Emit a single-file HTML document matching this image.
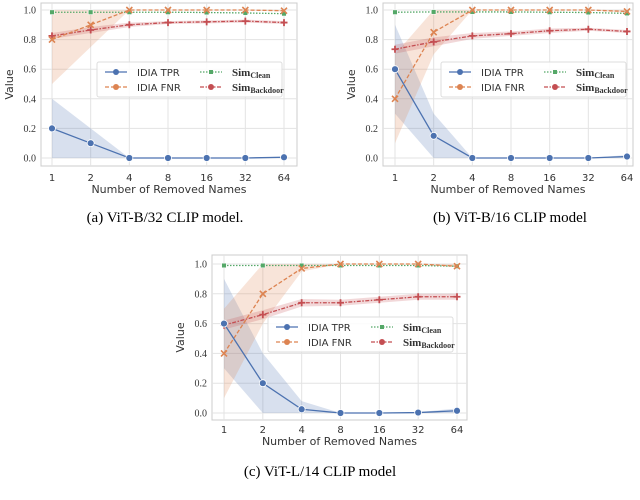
<!DOCTYPE html>
<html><head><meta charset="utf-8">
<style>
body{margin:0;background:#fff;width:640px;height:495px;overflow:hidden}
svg text{font-family:"DejaVu Sans","Liberation Sans",sans-serif;fill:#333}
.cap{font-family:"Liberation Serif",serif;font-size:15px;fill:#000}
.ytl{font-family:"Liberation Serif",serif;font-size:10px}
</style></head><body>
<svg id="fig" width="640" height="495"></svg>
<script>
const categories = ["1","2","4","8","16","32","64"];
const yTicks = [0.0,0.2,0.4,0.6,0.8,1.0];
// Panel a
const aTPR=[0.2,0.1,0,0,0,0,0.005], aTPRlo=[0,0,0,0,0,0,0], aTPRhi=[0.4,0.2,0,0,0,0,0.01];
const aFNR=[0.8,0.9,1,1,1,1,0.995], aFNRlo=[0.5,0.75,1,1,1,1,0.99], aFNRhi=[1,1,1,1,1,1,1];
const aClean=[0.985,0.985,0.985,0.985,0.983,0.98,0.975];
const aBack=[0.825,0.865,0.9,0.915,0.92,0.925,0.915];
const aBackErr=[0.02,0.02,0.015,0.01,0.01,0.01,0.01];
// Panel b
const bTPR=[0.6,0.15,0,0,0,0,0.01], bTPRlo=[0.3,0,0,0,0,0,0], bTPRhi=[0.9,0.3,0,0,0,0,0.02];
const bFNR=[0.4,0.85,1,1,1,1,0.99], bFNRlo=[0.1,0.7,1,1,1,1,0.98], bFNRhi=[0.7,1,1,1,1,1,1];
const bClean=[0.985,0.987,0.987,0.987,0.985,0.983,0.977];
const bBack=[0.735,0.785,0.825,0.84,0.86,0.87,0.855];
const bBackErr=[0.03,0.03,0.02,0.015,0.015,0.01,0.01];
// Panel c
const cTPR=[0.6,0.2,0.025,0,0,0.003,0.015], cTPRlo=[0.3,0,0,0,0,0,0], cTPRhi=[0.9,0.4,0.08,0,0,0.006,0.03];
const cFNR=[0.4,0.8,0.97,1,1,1,0.985], cFNRlo=[0.1,0.6,0.95,1,1,1,0.98], cFNRhi=[0.7,1,1,1,1,1,1];
const cClean=[0.99,0.99,0.99,0.99,0.99,0.99,0.985];
const cBack=[0.59,0.66,0.74,0.74,0.76,0.78,0.78];
const cBackErr=[0.03,0.03,0.025,0.02,0.02,0.02,0.02];

const NS="http://www.w3.org/2000/svg";
const fig=document.getElementById('fig');
function mk(tag,attrs,parent){const e=document.createElementNS(NS,tag);for(const k in attrs)e.setAttribute(k,attrs[k]);(parent||fig).appendChild(e);return e;}
const C={tpr:"#4c72b0",fnr:"#dd8452",clean:"#55a868",back:"#c44e52"};

function panel(id,box,x1,x64,y0,y1,d,leg,cap){
  const g=mk('g',{});
  
  
  const xs=i=>x1+(x64-x1)*i/(categories.length-1);
  const ys=v=>y0+(y1-y0)*v;
  const bg=mk('rect',{x:box[0],y:box[1],width:box[2]-box[0],height:box[3]-box[1],fill:"#fff",stroke:"#ccc","stroke-width":1},g);
  
  
  categories.forEach((c,i)=>{
    mk('line',{x1:xs(i),x2:xs(i),y1:box[1],y2:box[3],stroke:"#e3e3e3","stroke-width":1},g);
    const t=mk('text',{x:xs(i),y:181,"font-size":10,"text-anchor":"middle"},g);t.textContent=c;
    
    
  });
  yTicks.forEach(v=>{
    mk('line',{x1:box[0],x2:box[2],y1:ys(v),y2:ys(v),stroke:"#e3e3e3","stroke-width":1},g);
    const t=mk('text',{x:box[0]-5,y:ys(v)+3.5,"text-anchor":"end",class:"ytl"},g);t.textContent=v.toFixed(1);
    
    
  });
  const band=(lo,hi,col,name)=>{
    let p=lo.map((v,i)=>xs(i)+","+ys(v)).join(" ")+" "+hi.map((v,i)=>[xs(i),ys(v)]).reverse().map(q=>q.join(",")).join(" ");
    const e=mk('polygon',{points:p,fill:col,"fill-opacity":0.22,stroke:"none"},g);
    
    
  };
  band(d.tprlo,d.tprhi,C.tpr,'tpr-band');
  band(d.fnrlo,d.fnrhi,C.fnr,'fnr-band');
  band(d.back.map((v,i)=>v-d.berr[i]),d.back.map((v,i)=>v+d.berr[i]),C.back,'backdoor-band');
  const line=(vals,col,dash,marker,name)=>{
    const e=mk('polyline',{points:vals.map((v,i)=>xs(i)+","+ys(v)).join(" "),fill:"none",stroke:col,"stroke-width":1.3,"stroke-dasharray":dash},g);
    
    
    vals.forEach((v,i)=>{
      const x=xs(i),y=ys(v);let m;
      if(marker==='o')m=mk('circle',{cx:x,cy:y,r:3.5,fill:col,stroke:"#fff","stroke-width":0.8},g);
      else if(marker==='s')m=mk('rect',{x:x-2.3,y:y-2.3,width:4.6,height:4.6,fill:col,stroke:"#fff","stroke-width":0.5},g);
      else if(marker==='x')m=mk('path',{d:`M${x-3},${y-3}L${x+3},${y+3}M${x-3},${y+3}L${x+3},${y-3}`,stroke:col,"stroke-width":1.6},g);
      else m=mk('path',{d:`M${x-3.5},${y}L${x+3.5},${y}M${x},${y-3.5}L${x},${y+3.5}`,stroke:col,"stroke-width":1.8},g);
      
      
    });
  };
  line(d.clean,C.clean,"1.5,1.5",'s','sim-clean');
  line(d.back,C.back,"4,1.5,1.5,1.5",'+','sim-backdoor');
  line(d.fnr,C.fnr,"4,2",'x','idia-fnr');
  line(d.tpr,C.tpr,"",'o','idia-tpr');
  const xl=mk('text',{x:(box[0]+box[2])/2,y:193,"font-size":11,"text-anchor":"middle"},g);xl.textContent="Number of Removed Names";
  
  
  const yl=mk('text',{x:0,y:0,"font-size":11,"text-anchor":"middle",transform:`translate(${box[0]-28},${(box[1]+box[3])/2}) rotate(-90)`},g);yl.textContent="Value";
  
  
  // legend
  const lg=mk('g',{},g);
  
  
  const [lx,ly]=leg;
  mk('rect',{x:lx,y:ly,width:185,height:35,fill:"#fff","fill-opacity":0.85,stroke:"#ddd",rx:2},lg);
  const ent=[[C.tpr,"","o","IDIA TPR",0,0],[C.fnr,"4,2","x","IDIA FNR",0,1],[C.clean,"1.5,1.5","s","Sim",1,0,"Clean"],[C.back,"4,1.5,1.5,1.5","+","Sim",1,1,"Backdoor"]];
  ent.forEach(e=>{
    const ex=lx+8+e[4]*95, ey=ly+10+e[5]*15;
    mk('line',{x1:ex,x2:ex+22,y1:ey,y2:ey,stroke:e[0],"stroke-width":1.3,"stroke-dasharray":e[1]},lg);
    if(e[2]==='o')mk('circle',{cx:ex+11,cy:ey,r:3,fill:e[0]},lg);
    else if(e[2]==='s')mk('rect',{x:ex+9,y:ey-2,width:4,height:4,fill:e[0]},lg);
    else mk('circle',{cx:ex+11,cy:ey,r:3,fill:e[0]},lg);
    const t=mk('text',{x:ex+32,y:ey+4,"font-size":10},lg);
    if(e[6]){t.setAttribute('style','font-family:"Liberation Serif",serif;font-weight:bold;font-size:11px;fill:#333');t.textContent=e[3];
      const s=mk('tspan',{"font-size":8,dy:2},t);s.textContent=e[6];}
    else t.textContent=e[3];
    
    
  });
  const c=mk('text',{x:cap[0],y:cap[1],"text-anchor":"middle",class:"cap"});c.textContent=cap[2];
  
  
}
panel('a',[41,3,297,166],52,284,158,10,{tpr:aTPR,tprlo:aTPRlo,tprhi:aTPRhi,fnr:aFNR,fnrlo:aFNRlo,fnrhi:aFNRhi,clean:aClean,back:aBack,berr:aBackErr},[97,62],[165,222,"(a) ViT-B/32 CLIP model."]);
panel('b',[383,3,633,166],395,627,158,10,{tpr:bTPR,tprlo:bTPRlo,tprhi:bTPRhi,fnr:bFNR,fnrlo:bFNRlo,fnrhi:bFNRhi,clean:bClean,back:bBack,berr:bBackErr},[441,62],[510,222,"(b) ViT-B/16 CLIP model"]);
// panel c uses shifted vertical layout
(function(){
  const off=252;
  const g0=fig.childNodes.length;
  panel('c',[212,3,467,168],224,457,161,12,{tpr:cTPR,tprlo:cTPRlo,tprhi:cTPRhi,fnr:cFNR,fnrlo:cFNRlo,fnrhi:cFNRhi,clean:cClean,back:cBack,berr:cBackErr},[268,65],[320,476-off,"(c) ViT-L/14 CLIP model"]);
  const nodes=Array.from(fig.childNodes).slice(g0);
  nodes.forEach(n=>n.setAttribute('transform','translate(0,'+off+')'));
})();
</script>
</body></html>
